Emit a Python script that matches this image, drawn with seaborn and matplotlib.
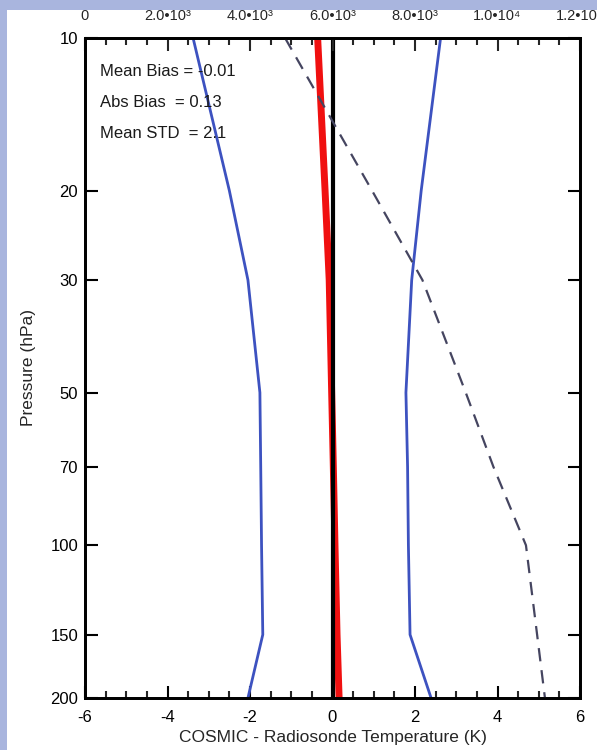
import matplotlib
matplotlib.use("Agg")
import matplotlib.pyplot as plt
import matplotlib.ticker as mticker
from matplotlib.patches import Rectangle
import pandas as pd
import seaborn as sns

sns.set_theme(style="ticks")
plt.rcParams["font.family"] = ["Liberation Sans", "DejaVu Sans"]
plt.rcParams["axes.unicode_minus"] = False

# Pressure levels (hPa)
pressure = [10, 20, 30, 50, 70, 100, 150, 200]

# COSMIC - radiosonde temperature statistics (K)
mean_bias = [-0.36, -0.18, -0.08, -0.02, 0.02, 0.06, 0.11, 0.16]
minus_std = [-3.38, -2.5, -2.05, -1.76, -1.74, -1.72, -1.69, -2.05]
plus_std = [2.62, 2.15, 1.92, 1.78, 1.82, 1.84, 1.88, 2.39]

# Number of collocated samples (top axis)
sample_count = [4850, 6960, 8180, 9230, 9900, 10690, 10960, 11150]

y_ticks = [10, 20, 30, 50, 70, 100, 150, 200]
top_ticks = [0, 2000, 4000, 6000, 8000, 10000, 12000]
top_labels = ["0", "2.0•10³", "4.0•10³", "6.0•10³", "8.0•10³", "1.0•10⁴", "1.2•10⁴"]

stats_text = ["Mean Bias = -0.01", "Abs Bias  = 0.13", "Mean STD  = 2.1"]

df = pd.DataFrame({
    "pressure": pressure,
    "mean": mean_bias,
    "lo": minus_std,
    "hi": plus_std,
    "count": sample_count,
})

fig = plt.figure(figsize=(5.97, 7.5), dpi=100)
fig.patch.set_facecolor("#a9b5de")
fig.patches.append(Rectangle((7 / 597, 0), 1, 1 - 10 / 750, transform=fig.transFigure,
                             facecolor="white", edgecolor="none", zorder=-1))

ax = fig.add_axes([85 / 597, 1 - 698 / 750, 495 / 597, 660 / 750])
ax.set_facecolor("white")

blue = "#3d52c0"
sns.lineplot(data=df, x="lo", y="pressure", sort=False, orient="y", color=blue, lw=2, ax=ax)
sns.lineplot(data=df, x="hi", y="pressure", sort=False, orient="y", color=blue, lw=2, ax=ax)
sns.lineplot(data=df, x="mean", y="pressure", sort=False, orient="y", color="#f01010", lw=5, ax=ax)
ax.axvline(0, color="black", lw=3, zorder=5)

ax.set_yscale("log")
ax.set_ylim(200, 10)
ax.set_xlim(-6, 6)
ax.yaxis.set_major_locator(mticker.FixedLocator(y_ticks))
ax.yaxis.set_major_formatter(mticker.FixedFormatter([str(t) for t in y_ticks]))
ax.yaxis.set_minor_locator(mticker.NullLocator())
ax.xaxis.set_major_locator(mticker.MultipleLocator(2))
ax.xaxis.set_minor_locator(mticker.MultipleLocator(0.5))
ax.tick_params(axis="both", which="major", direction="in", length=9, width=1.5,
               labelsize=12, colors="black", right=True, pad=5)
ax.tick_params(axis="x", which="major", pad=9)
ax.tick_params(axis="x", which="minor", direction="in", length=5, width=1.5)
for s in ax.spines.values():
    s.set_linewidth(2)
    s.set_color("black")

ax.set_xlabel("COSMIC - Radiosonde Temperature (K)", fontsize=12.5, labelpad=3)
ax.set_ylabel("Pressure (hPa)", fontsize=12.5, labelpad=10)

# top axis: sample counts
ax2 = ax.twiny()
sns.lineplot(data=df, x="count", y="pressure", sort=False, orient="y", color="#454560",
             lw=1.6, ax=ax2)
ax2.lines[0].set_dashes([6, 4])
ax2.set_xlim(0, 12000)
ax2.set_ylim(200, 10)
ax2.set_xlabel("")
ax2.set_ylabel("")
ax2.xaxis.set_major_locator(mticker.FixedLocator(top_ticks))
ax2.xaxis.set_major_formatter(mticker.FixedFormatter(top_labels))
ax2.xaxis.set_minor_locator(mticker.MultipleLocator(500))
ax2.tick_params(axis="x", which="major", direction="in", length=9, width=1.5,
                labelsize=10.5, pad=11)
ax2.tick_params(axis="x", which="minor", direction="in", length=5, width=1.5)
for s in ax2.spines.values():
    s.set_linewidth(2)
    s.set_color("black")

for i, t in enumerate(stats_text):
    ax.text(0.03, 0.95 - i * 0.047, t, transform=ax.transAxes, fontsize=12,
            color="#1a1a1a", va="center", zorder=10)

fig.savefig("out.png", dpi=100, facecolor=fig.get_facecolor())
